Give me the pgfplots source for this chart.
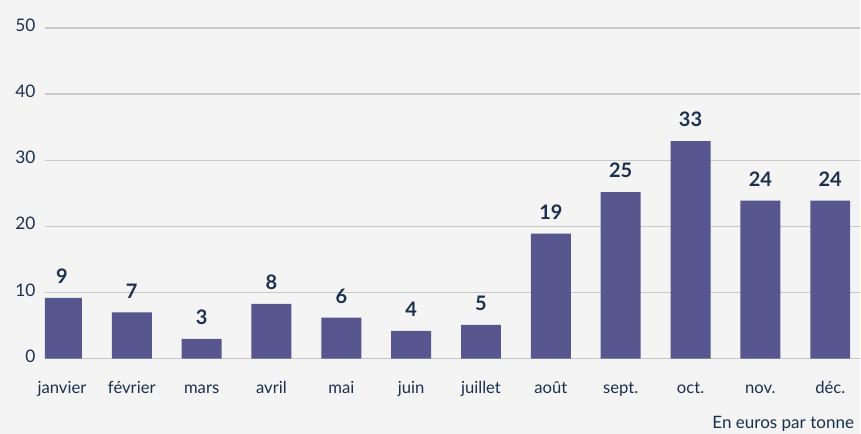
\documentclass[border=0pt]{standalone}
\usepackage{fontspec}
\setmainfont{Lato}
\usepackage{pgfplots}
\pgfplotsset{compat=1.18}
\usetikzlibrary{backgrounds}
\definecolor{barc}{HTML}{58568E}
\definecolor{txt}{HTML}{1B2F4E}
\definecolor{bg}{HTML}{F4F4F4}
\definecolor{gridc}{HTML}{C8C8C8}
\begin{document}
\begin{tikzpicture}
% 1 px of the reference = 0.75pt
\begin{axis}[
    at={(33.75pt,56.25pt)}, anchor=south west,
    scale only axis,
    width=612pt, height=248.25pt,
    ymin=0, ymax=50,
    xmin=-0.243, xmax=11.43,
    ytick={0,10,...,50},
    xtick={0,...,11},
    xticklabels={janvier,février,mars,avril,mai,juin,juillet,août,sept.,oct.,nov.,déc.},
    axis line style={draw=none},
    tick style={draw=none},
    ymajorgrids=true,
    grid style={gridc, line width=1.1pt},
    yticklabel style={font=\fontsize{13}{15}\selectfont, text=txt, anchor=east, inner sep=0pt, xshift=-7pt, yshift=2pt},
    xticklabel style={font=\fontsize{12.5}{15}\selectfont, text=txt, anchor=base, inner sep=0pt, yshift=-22pt},
    /pgf/number format/assume math mode=true,
    ybar, bar width=30pt,
    point meta=explicit symbolic,
    nodes near coords,
    nodes near coords style={font=\bfseries\fontsize{15}{17}\selectfont, text=txt, anchor=south, yshift=7pt},
]
\addplot[fill=barc, draw=none] coordinates {
    (0,9.2) [9]
    (1,7.0) [7]
    (2,3.0) [3]
    (3,8.3) [8]
    (4,6.2) [6]
    (5,4.2) [4]
    (6,5.1) [5]
    (7,18.9) [19]
    (8,25.2) [25]
    (9,32.9) [33]
    (10,23.9) [24]
    (11,23.9) [24]
};
\end{axis}
\node[anchor=east, text=txt, font=\fontsize{12.8}{15}\selectfont, inner sep=0pt] at (641.25pt,7.5pt) {En euros par tonne};
\begin{scope}[on background layer]
\fill[bg] (0,0) rectangle (645.75pt,325.5pt);
\end{scope}
\end{tikzpicture}
\end{document}
